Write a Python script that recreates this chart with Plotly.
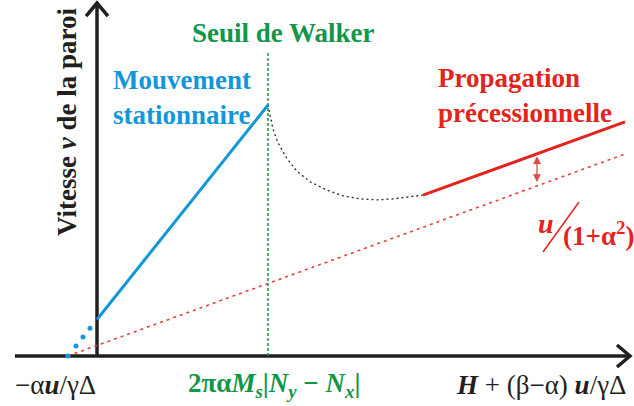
import plotly.graph_objects as go

# ---- schematic data (field H and wall velocity v in reduced units) ----
H_WALKER = 1.0            # Walker threshold field
H_ZERO = -0.17            # field where both linear regimes extrapolate to v = 0
MU_PREC = 0.247           # precessional mobility (slope of the red lines)
DRIFT = 0.128             # u / (1 + alpha^2) offset of the precessional line

stat_H = [0.0, 1.0]                              # stationary regime (solid blue)
stat_dots_H = [-0.170, -0.123, -0.082, -0.041]   # extrapolation (blue dots)
prec_H = [1.906, 3.088]                          # precessional regime (solid red)
asym_H = [-0.17, 3.10]                           # asymptote without drift (red dotted)
trans_H = [1.0, 1.012, 1.029, 1.058, 1.111, 1.170, 1.246, 1.345, 1.439,
           1.538, 1.637, 1.731, 1.830, 1.906]    # unstable branch (black dotted)
trans_v = [1.0, 0.955, 0.905, 0.850, 0.787, 0.735, 0.694, 0.661, 0.638,
           0.626, 0.622, 0.626, 0.633, 0.641]
arrow_H = 2.573                                  # where the drift is marked

X_AXIS = [-0.48, 3.117]
Y_AXIS = [0.0, 1.406]
X_RANGE = [-0.5673, 3.1404]
Y_RANGE = [-0.1992, 1.4183]

BLUE = "#1496dc"
RED = "#e3231c"
GREEN = "#12964a"
INK = "#231f20"
SERIF = "Liberation Serif"

mu_stat = 1.0 / (H_WALKER - H_ZERO)
stat_v = [mu_stat * (h - H_ZERO) for h in stat_H]
dots_v = [mu_stat * (h - H_ZERO) for h in stat_dots_H]
asym_v = [MU_PREC * (h - H_ZERO) for h in asym_H]
prec_v = [MU_PREC * (h - H_ZERO) + DRIFT for h in prec_H]

fig = go.Figure()

# axes with open chevron heads
fig.add_trace(go.Scatter(x=X_AXIS, y=[0, 0], mode="lines",
                         line=dict(color=INK, width=3.5)))
fig.add_trace(go.Scatter(x=[0, 0], y=Y_AXIS, mode="lines",
                         line=dict(color=INK, width=3.5)))
xt = X_AXIS[1]
fig.add_trace(go.Scatter(x=[xt - 0.076, xt, xt - 0.076], y=[0.044, 0, -0.044],
                         mode="lines", line=dict(color=INK, width=3.5)))
yt = Y_AXIS[1]
fig.add_trace(go.Scatter(x=[-0.064, 0, 0.064], y=[yt - 0.052, yt, yt - 0.052],
                         mode="lines", line=dict(color=INK, width=3.5)))

# Walker threshold
fig.add_trace(go.Scatter(x=[H_WALKER, H_WALKER], y=[0, 1.207], mode="lines",
                         line=dict(color=GREEN, width=1.5, dash="3px,2px")))

# asymptote without drift
fig.add_trace(go.Scatter(x=asym_H, y=asym_v, mode="lines",
                         line=dict(color="#e8403a", width=1.6, dash="3px,4px")))

# unstable transition branch
fig.add_trace(go.Scatter(x=trans_H, y=trans_v, mode="lines",
                         line=dict(color="#333333", width=1.4, dash="2px,3px")))

# stationary regime
fig.add_trace(go.Scatter(x=stat_dots_H, y=dots_v, mode="markers",
                         marker=dict(color=BLUE, size=5, symbol="circle",
                                     line=dict(width=0))))
fig.add_trace(go.Scatter(x=stat_H, y=stat_v, mode="lines",
                         line=dict(color=BLUE, width=3)))

# precessional regime
fig.add_trace(go.Scatter(x=prec_H, y=prec_v, mode="lines",
                         line=dict(color=RED, width=3)))

# drift arrow between the two red lines
arrow_low = MU_PREC * (arrow_H - H_ZERO)
fig.add_annotation(x=arrow_H, y=arrow_low + DRIFT - 0.01, ax=arrow_H, ay=arrow_low + 0.01,
                   xref="x", yref="y", axref="x", ayref="y", text="",
                   showarrow=True, arrowhead=2, startarrowhead=2, arrowside="end+start",
                   arrowsize=1.2, arrowwidth=1.3, arrowcolor="#e04a44")


def label(text, x, y, color, size=27, xanchor="center", yanchor="middle",
          angle=0, align="center"):
    fig.add_annotation(text=text, x=x / 634, y=1 - y / 406, xref="paper",
                       yref="paper", showarrow=False, xanchor=xanchor,
                       yanchor=yanchor, textangle=angle, align=align,
                       font=dict(family=SERIF, size=size, color=color))


label("<b>Vitesse <i>v</i> de la paroi</b>", 67, 122, INK, angle=-90)
label("<b>Seuil de Walker</b>", 283, 33, GREEN)
label("<b>Mouvement<br>stationnaire</b>", 111, 97, BLUE, xanchor="left", align="left")
label("<b>Propagation<br>précessionnelle</b>", 436, 96, RED, xanchor="left", align="left")
label("<b><i>u</i></b>", 546, 223, RED, size=28)
label("<b>(1+α<sup>2</sup>)</b>", 561, 234, RED, size=27, xanchor="left")
fig.add_shape(type="line", xref="paper", yref="paper",
              x0=543 / 634, y0=1 - 252 / 406, x1=579 / 634, y1=1 - 202 / 406,
              line=dict(color=RED, width=1.5))

label("−α<b><i>u</i></b>/γΔ", 55, 385, INK)
label("<b>2πα<i>M<sub>s</sub></i>|<i>N<sub>y</sub></i> − <i>N<sub>x</sub></i>|</b>",
      274, 385, GREEN)
label("<b><i>H</i></b> + (β−α) <b><i>u</i></b>/γΔ", 541, 385, INK)

fig.update_layout(
    width=634, height=406, margin=dict(l=0, r=0, t=0, b=0),
    paper_bgcolor="white", plot_bgcolor="white", showlegend=False,
    xaxis=dict(range=X_RANGE, visible=False, fixedrange=True),
    yaxis=dict(range=Y_RANGE, visible=False, fixedrange=True),
)

fig.write_html("out.html", config={"displayModeBar": False})
